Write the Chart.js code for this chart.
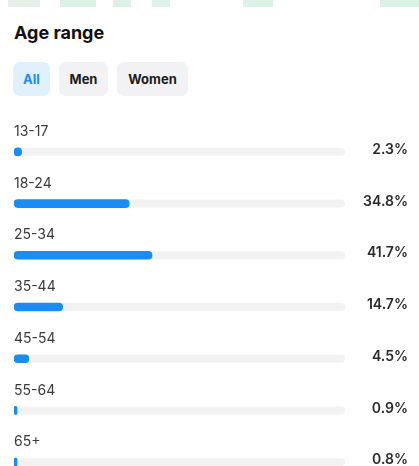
<!DOCTYPE html>
<html>
<head>
<meta charset="utf-8">
<script src="https://cdn.jsdelivr.net/npm/chart.js@4.4.1/dist/chart.umd.min.js"></script>
<style>
html, body { margin: 0; padding: 0; width: 419px; height: 466px; overflow: hidden; background: #fff; font-family: Inter, "Noto Sans", sans-serif; }
.mark { position: absolute; top: 0; height: 7px; background: #dcf1e7; }
h1 { position: absolute; left: 14px; top: 22px; margin: 0; font-size: 18px; font-weight: 700; color: #111; }
.btn { position: absolute; top: 62px; height: 34px; line-height: 34px; border-radius: 7px; background: #f2f2f4; color: #1c1c1c; font-size: 13px; font-weight: 700; text-align: center; }
.btn.on { background: #e1f0fd; color: #1a8cf5; }
#wrap { position: absolute; left: 0; top: 110px; width: 419px; height: 378px; }
</style>
</head>
<body>
<div class="mark" style="left:8px;width:32px;background:#e8efeb"></div>
<div class="mark" style="left:60px;width:36px"></div>
<div class="mark" style="left:113px;width:18px"></div>
<div class="mark" style="left:152px;width:18px"></div>
<div class="mark" style="left:243px;width:30px"></div>
<div class="mark" style="left:380px;width:39px"></div>
<h1>Age range</h1>
<div class="btn on" style="left:13px;width:37px">All</div>
<div class="btn" style="left:59px;width:49px">Men</div>
<div class="btn" style="left:117px;width:71px">Women</div>
<div id="wrap"><canvas id="chart"></canvas></div>
<script>
var labels = ["13-17", "18-24", "25-34", "35-44", "45-54", "55-64", "65+"];
var values = [2.3, 34.8, 41.7, 14.7, 4.5, 0.9, 0.8];
var valueLabels = ["2.3%", "34.8%", "41.7%", "14.7%", "4.5%", "0.9%", "0.8%"];

// grey track behind each bar, drawn from the x scale
var trackPlugin = {
	id: 'track',
	beforeDatasetsDraw: function(chart) {
		var ctx = chart.ctx;
		var x = chart.scales.x;
		var meta = chart.getDatasetMeta(0);
		var x0 = x.getPixelForValue(0);
		var x1 = x.getPixelForValue(100);
		ctx.save();
		ctx.fillStyle = '#f2f2f3';
		meta.data.forEach(function(bar) {
			ctx.beginPath();
			ctx.roundRect(x0, bar.y - 4, x1 - x0, 8, 4);
			ctx.fill();
		});
		ctx.restore();
	}
};

var textPlugin = {
	id: 'rowText',
	afterDatasetsDraw: function(chart) {
		var ctx = chart.ctx;
		var meta = chart.getDatasetMeta(0);
		ctx.save();
		ctx.textBaseline = 'middle';
		meta.data.forEach(function(bar, i) {
			ctx.font = '400 14px Inter, "Noto Sans", sans-serif';
			ctx.fillStyle = '#3a3a3a';
			ctx.textAlign = 'left';
			ctx.fillText(labels[i], chart.chartArea.left, bar.y - 20);
			ctx.font = '600 14px Inter, "Noto Sans", sans-serif';
			ctx.fillStyle = '#2b2b2b';
			ctx.textAlign = 'right';
			ctx.fillText(valueLabels[i], 408, bar.y - 2);
		});
		ctx.restore();
	}
};

var ctx = document.getElementById('chart');
var chart = new Chart(ctx, {
	type: 'bar',
	data: {
		labels: labels,
		datasets: [{
			label: 'Age range',
			data: values,
			backgroundColor: '#1a8cf5',
			borderRadius: 4,
			borderSkipped: false,
			barThickness: 8,
			minBarLength: 3
		}]
	},
	options: {
		indexAxis: 'y',
		responsive: true,
		maintainAspectRatio: false,
		animation: false,
		layout: { padding: { left: 14, right: 74, top: 16, bottom: 0 } },
		scales: {
			x: { display: false, min: 0, max: 100 },
			y: { display: false }
		},
		plugins: {
			legend: { display: false },
			tooltip: { enabled: false }
		}
	},
	plugins: [trackPlugin, textPlugin]
});
</script>
</body>
</html>
